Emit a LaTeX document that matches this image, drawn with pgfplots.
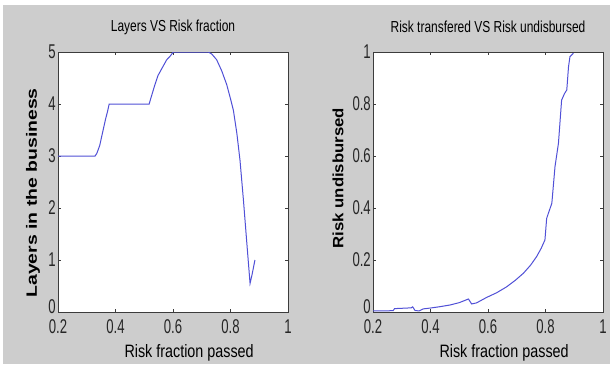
\documentclass[border=0pt]{standalone}
\usepackage{pgfplots}
\pgfplotsset{compat=1.18}
\usepackage{fontspec}
\setmainfont{Liberation Sans}
\newfontfamily\narrowfont{Liberation Sans}[FakeStretch=0.66]
\newfontfamily\labelfont{Liberation Sans}[FakeStretch=0.8]
\newfontfamily\titlefont{Liberation Sans}[FakeStretch=0.75]
\newfontfamily\boldwide{Liberation Sans Bold}[FakeStretch=1.3]
\newfontfamily\boldwideb{Liberation Sans Bold}[FakeStretch=1.12]
\definecolor{bg}{RGB}{205,205,205}
\definecolor{line}{RGB}{80,80,215}
\definecolor{frame}{RGB}{60,60,60}
\pgfplotsset{
  every axis title shift=0pt,
  mystyle/.style={
    scale only axis, width=230bp, height=260bp,
    xmin=0.2, xmax=1,
    axis background/.style={fill=white},
    axis line style={frame, line width=0.9bp},
    tick style={frame, line width=0.6bp},
    major tick length=3bp,
    tick align=inside,
    xtick={0.2,0.4,0.6,0.8,1},
    xticklabels={0.2,0.4,0.6,0.8,1},
    tick label style={font=\fontsize{20}{20}\selectfont\narrowfont, text=black!85, inner sep=0bp},
    /pgf/number format/assume math mode=true,
    xticklabel style={yshift=-7.5bp},
    yticklabel style={xshift=-2bp},
    extra y ticks={0},
    extra y tick style={yticklabel style={yshift=5bp}},
    title style={font=\fontsize{16}{16}\selectfont\titlefont, anchor=center, at={(axis description cs:0.5,1.095)}},
    xlabel style={font=\fontsize{18}{18}\selectfont\labelfont, anchor=center, at={(axis description cs:0.57,-0.158)}},
    ylabel style={anchor=center, rotate=0},
    every axis plot/.style={line, line width=1bp},
  }
}
\begin{document}
\begin{tikzpicture}[x=1bp,y=1bp]
\fill[bg] (0,0) rectangle (610,364);
\fill[white] (0,359) rectangle (610,364);
\fill[white] (0,0) rectangle (3,364);
\begin{axis}[mystyle, at={(58bp,52bp)}, anchor=south west,
  ymin=0, ymax=5, ytick={1,2,3,4,5},
  title={Layers VS Risk fraction},
  xlabel={Risk fraction passed},
  ylabel={Layers in the business},
  ylabel style={font=\fontsize{15}{15}\selectfont\boldwide, at={(axis description cs:-0.109,0.458)}}]
\addplot[line] coordinates {
(0.2,3) (0.329,3) (0.335,3.05) (0.345,3.2) (0.355,3.45) (0.365,3.7) (0.372,3.85) (0.378,4)
(0.517,4) (0.525,4.15) (0.537,4.37) (0.548,4.55) (0.555,4.62) (0.565,4.72) (0.578,4.85) (0.59,4.92) (0.601,5)
(0.723,5) (0.735,4.96) (0.752,4.85) (0.77,4.63) (0.787,4.37) (0.8,4.1) (0.81,3.88) (0.822,3.44)
(0.833,2.92) (0.845,2.15) (0.856,1.38) (0.868,0.55) (0.875,0.72) (0.885,1.0)
};
\end{axis}
\begin{axis}[mystyle, at={(373bp,52bp)}, anchor=south west,
  ymin=0, ymax=1, ytick={0.2,0.4,0.6,0.8,1},
  yticklabels={0.2,0.4,0.6,0.8,1},
  title={Risk transfered VS Risk undisbursed},
  xlabel={Risk fraction passed},
  ylabel={Risk undisbursed},
  ylabel style={font=\fontsize{15}{15}\selectfont\boldwideb, at={(axis description cs:-0.152,0.515)}}]
\addplot[line] coordinates {
(0.2,0.004) (0.27,0.005) (0.275,0.013) (0.333,0.016) (0.338,0.02) (0.346,0.006) (0.36,0.004) (0.375,0.012)
(0.398,0.015) (0.43,0.02) (0.468,0.027) (0.5,0.036) (0.532,0.05) (0.543,0.031) (0.56,0.035) (0.595,0.056)
(0.63,0.074) (0.665,0.097) (0.695,0.122) (0.723,0.149) (0.748,0.18) (0.769,0.213) (0.785,0.245) (0.798,0.277)
(0.804,0.36) (0.81,0.38) (0.822,0.418) (0.833,0.559) (0.845,0.649) (0.856,0.815) (0.866,0.84) (0.874,0.854)
(0.88,0.943) (0.885,0.982) (0.897,0.995)
};
\end{axis}
\end{tikzpicture}
\end{document}
